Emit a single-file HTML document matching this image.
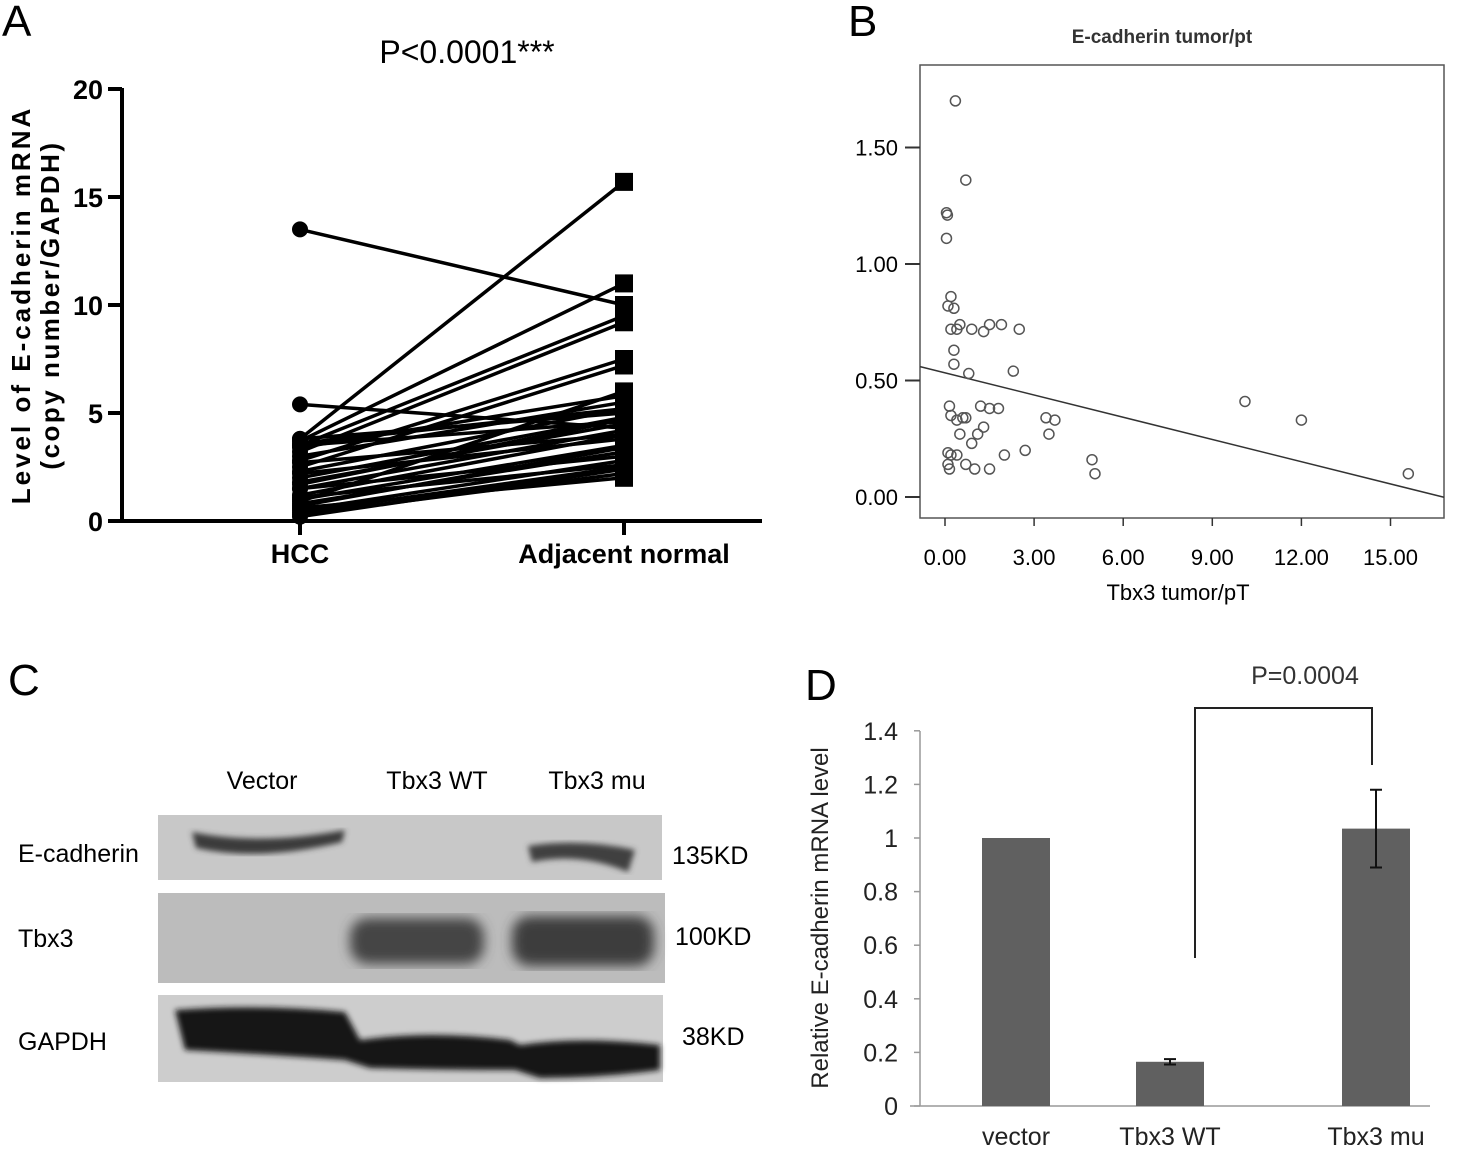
<!DOCTYPE html>
<html><head><meta charset="utf-8"><style>
body{margin:0;background:#fff;}
svg{display:block;font-family:"Liberation Sans",Arial,sans-serif;}
</style></head><body>
<svg id="fig" width="1472" height="1150" viewBox="0 0 1472 1150">
<defs>
<filter id="blur6"><feGaussianBlur stdDeviation="6"/></filter>
<filter id="blur3"><feGaussianBlur stdDeviation="3"/></filter>
<filter id="blur2"><feGaussianBlur stdDeviation="2"/></filter>
</defs>
<text x="2" y="36" font-size="44">A</text>
<text x="848" y="36" font-size="44">B</text>
<text x="8" y="695" font-size="44">C</text>
<text x="805" y="700" font-size="44">D</text>

<g id="panelA">
<text x="467" y="63" font-size="32" text-anchor="middle">P&lt;0.0001***</text>
<g transform="translate(30,305) rotate(-90)">
<text x="0" y="0" font-size="26" font-weight="bold" text-anchor="middle" letter-spacing="3">Level of E-cadherin mRNA</text>
<text x="0" y="29" font-size="26" font-weight="bold" text-anchor="middle" letter-spacing="2.5">(copy number/GAPDH)</text>
</g>
<line x1="122" y1="88" x2="122" y2="523" stroke="#000" stroke-width="4"/>
<line x1="120" y1="521" x2="762" y2="521" stroke="#000" stroke-width="4"/>
<g id="aTicks"></g>
<g id="aLines"></g>
<text x="300" y="563" font-size="27" font-weight="bold" text-anchor="middle">HCC</text>
<text x="624" y="563" font-size="27" font-weight="bold" text-anchor="middle">Adjacent normal</text>
</g>

<g id="panelB">
<text x="1162" y="43" font-size="19" font-weight="bold" fill="#333" text-anchor="middle">E-cadherin tumor/pt</text>
<rect x="920" y="65" width="524" height="453" fill="none" stroke="#555" stroke-width="1.5"/>
<g id="bTicks"></g>
<g id="bPoints"></g>
<text x="1178" y="600" font-size="22" text-anchor="middle">Tbx3 tumor/pT</text>
</g>

<g id="panelC">
<text x="262" y="789" font-size="25" text-anchor="middle">Vector</text>
<text x="437" y="789" font-size="25" text-anchor="middle">Tbx3 WT</text>
<text x="597" y="789" font-size="25" text-anchor="middle">Tbx3 mu</text>
<text x="18" y="862" font-size="25">E-cadherin</text>
<text x="18" y="947" font-size="25">Tbx3</text>
<text x="18" y="1050" font-size="25">GAPDH</text>
<text x="672" y="864" font-size="25">135KD</text>
<text x="675" y="945" font-size="25">100KD</text>
<text x="682" y="1045" font-size="25">38KD</text>
<g>
<rect x="158" y="815" width="504" height="65" fill="#c8c8c8"/>
<path d="M192 832 Q260 846 345 830 L342 842 Q260 862 196 848Z" fill="#3a3a3a" filter="url(#blur3)"/>
<path d="M528 846 Q580 838 635 850 L628 872 Q580 852 532 862Z" fill="#3f3f3f" filter="url(#blur3)"/>
</g>
<g>
<rect x="158" y="893" width="507" height="90" fill="#bcbcbc"/>
<rect x="350" y="918" width="134" height="46" rx="18" fill="#444" filter="url(#blur6)"/>
<rect x="512" y="916" width="142" height="50" rx="18" fill="#3d3d3d" filter="url(#blur6)"/>
</g>
<g>
<rect x="158" y="995" width="505" height="87" fill="#cdcdcd"/>
<path d="M175 1010 Q260 1004 345 1012 L360 1040 Q430 1030 510 1040 L520 1045 Q580 1036 660 1045 L660 1070 Q600 1078 540 1078 L515 1070 Q440 1070 370 1068 L345 1060 Q260 1054 185 1050Z" fill="#151515" filter="url(#blur3)"/>
</g>
</g>

<g id="panelD">
<text transform="translate(828,918) rotate(-90)" font-size="24" text-anchor="middle" fill="#222">Relative E-cadherin mRNA level</text>
<line x1="920" y1="731" x2="920" y2="1106" stroke="#999" stroke-width="1.5"/>
<line x1="910" y1="1106" x2="1430" y2="1106" stroke="#999" stroke-width="1.5"/>
<g id="dTicks"></g>
<g id="dBars"></g>
<path d="M1195 958 L1195 708 L1372 708 L1372 765" fill="none" stroke="#222" stroke-width="2"/>
<text x="1305" y="684" font-size="25" text-anchor="middle" fill="#333">P=0.0004</text>
</g>
</svg>
<script>
// ---- Panel A data ----
const aHCC =    [13.5,5.4,3.8,3.7,3.5,3.2,2.8,2.5,3.8,3.4,3.0,2.3,2.0,1.8,1.5,1.2,3.5,2.7,1.0,0.8,0.5,0.4,0.3,0.6,1.5,2.2,3.6,0.9,1.7,0.7,1.1,0.2];
const aNormal = [10.0,4.3,15.7,11.0,9.5,9.2,7.5,7.2,5.0,5.8,5.5,5.2,4.8,4.5,4.2,4.0,4.6,4.0,3.5,3.2,2.8,2.5,2.2,2.0,3.0,3.8,5.2,6.0,4.7,3.4,2.6,2.4];
const aTickVals = [0,5,10,15,20];
// ---- Panel B data ----
const bX = [0.35,0.7,0.05,0.08,0.05,0.2,0.1,0.3,0.2,0.4,0.5,1.3,1.5,1.9,2.5,0.9,0.3,0.3,0.8,2.3,0.15,0.2,0.4,0.6,0.7,1.2,1.5,1.8,1.3,1.1,0.5,0.9,3.4,3.7,3.5,2.7,2.0,0.1,0.2,0.4,0.1,0.15,0.7,1.0,1.5,4.95,5.05,10.1,12.0,15.6];
const bY = [1.70,1.36,1.22,1.21,1.11,0.86,0.82,0.81,0.72,0.72,0.74,0.71,0.74,0.74,0.72,0.72,0.63,0.57,0.53,0.54,0.39,0.35,0.33,0.34,0.34,0.39,0.38,0.38,0.30,0.27,0.27,0.23,0.34,0.33,0.27,0.20,0.18,0.19,0.18,0.18,0.14,0.12,0.14,0.12,0.12,0.16,0.10,0.41,0.33,0.10];
const bFit = [0.533,-0.0318];
const bXTicks = [0,3,6,9,12,15];
const bYTicks = [0,0.5,1.0,1.5];
// ---- Panel D data ----
const dCats = ["vector","Tbx3 WT","Tbx3 mu"];
const dVals = [1.0,0.165,1.035];
const dErr = [0,0.01,0.145];
const dTicks = [0,0.2,0.4,0.6,0.8,1,1.2,1.4];

const NS="http://www.w3.org/2000/svg";
function mk(tag,attrs,parent,txt){const e=document.createElementNS(NS,tag);for(const k in attrs)e.setAttribute(k,attrs[k]);if(txt!==undefined)e.textContent=txt;parent.appendChild(e);return e;}

const aY=v=>521-v*21.6, aX0=300, aX1=624;
const aT=document.getElementById('aTicks');
aTickVals.forEach(v=>{
 const l=mk('line',{x1:108,x2:122,y1:aY(v),y2:aY(v),stroke:'#000','stroke-width':4},aT);
 
 
 const t=mk('text',{x:103,y:aY(v)+10,'font-size':27,'font-weight':'bold','text-anchor':'end'},aT,String(v));
 
 
});
[aX0,aX1].forEach(x=>{mk('line',{x1:x,x2:x,y1:521,y2:535,stroke:'#000','stroke-width':4},aT);});
const aL=document.getElementById('aLines');
aHCC.forEach((h,i)=>{
 const n=aNormal[i];
 const l=mk('line',{x1:aX0,y1:aY(h),x2:aX1,y2:aY(n),stroke:'#000','stroke-width':3.5},aL);
 
 
});
aHCC.forEach((h,i)=>{
 const c=mk('circle',{cx:aX0,cy:aY(h),r:8,fill:'#000'},aL);
 
 
 const s=mk('rect',{x:aX1-9,y:aY(aNormal[i])-9,width:18,height:18,fill:'#000'},aL);
 
 
});

const bXs=v=>945+v*29.7, bYs=v=>497-v*233;
const bT=document.getElementById('bTicks');
bXTicks.forEach(v=>{
 mk('line',{x1:bXs(v),x2:bXs(v),y1:518,y2:526,stroke:'#333','stroke-width':1.5},bT);
 const t=mk('text',{x:bXs(v),y:565,'font-size':22,'text-anchor':'middle'},bT,v.toFixed(2));
 
 
});
bYTicks.forEach(v=>{
 mk('line',{x1:905,x2:920,y1:bYs(v),y2:bYs(v),stroke:'#333','stroke-width':2},bT);
 const t=mk('text',{x:898,y:bYs(v)+8,'font-size':22,'text-anchor':'end'},bT,v.toFixed(2));
 
 
});
const bP=document.getElementById('bPoints');
const fx0=-0.84, fx1=16.8;
const fl=mk('line',{x1:bXs(fx0),y1:bYs(bFit[0]+bFit[1]*fx0),x2:bXs(fx1),y2:bYs(bFit[0]+bFit[1]*fx1),stroke:'#333','stroke-width':1.5},bP);


bX.forEach((x,i)=>{
 const c=mk('circle',{cx:bXs(x),cy:bYs(bY[i]),r:5,fill:'none',stroke:'#555','stroke-width':1.5},bP);
 
 
});

const dY=v=>1106-v*268, dCx=[1016,1170,1376];
const dT=document.getElementById('dTicks');
dTicks.forEach(v=>{
 mk('line',{x1:914,x2:920,y1:dY(v),y2:dY(v),stroke:'#999','stroke-width':1.5},dT);
 const t=mk('text',{x:898,y:dY(v)+9,'font-size':25,'text-anchor':'end',fill:'#222'},dT,String(v));
 
 
});
const dB=document.getElementById('dBars');
dCats.forEach((c,i)=>{
 const r=mk('rect',{x:dCx[i]-34,y:dY(dVals[i]),width:68,height:dY(0)-dY(dVals[i]),fill:'#606060'},dB);
 
 
 if(dErr[i]>0){
  const g=mk('path',{d:`M${dCx[i]} ${dY(dVals[i]+dErr[i])} V${dY(dVals[i]-dErr[i])} M${dCx[i]-6} ${dY(dVals[i]+dErr[i])} H${dCx[i]+6} M${dCx[i]-6} ${dY(dVals[i]-dErr[i])} H${dCx[i]+6}`,stroke:'#111','stroke-width':2,fill:'none'},dB);
  
  
 }
 const t=mk('text',{x:dCx[i],y:1145,'font-size':25,'text-anchor':'middle',fill:'#222'},dB,c);
 
 
});
</script>
</body></html>
